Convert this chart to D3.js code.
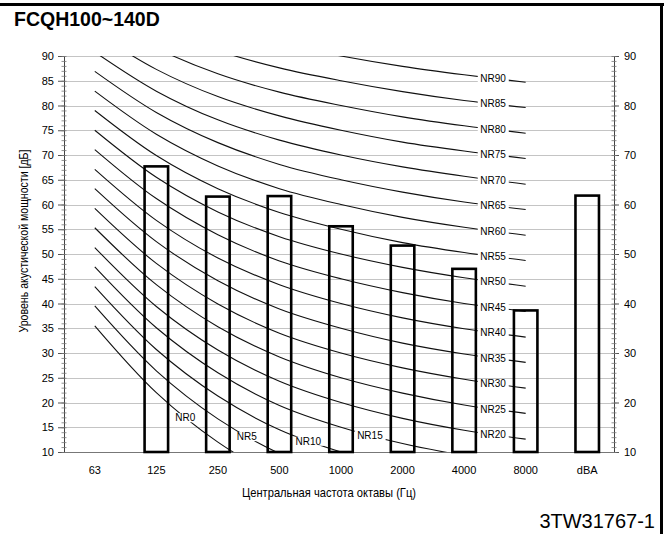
<!DOCTYPE html>
<html>
<head>
<meta charset="utf-8">
<script src="https://cdn.jsdelivr.net/npm/d3@7/dist/d3.min.js"></script>
<style>
  html, body { margin: 0; padding: 0; background: #fff; }
  svg { display: block; }
</style>
</head>
<body>
<svg id="chart" width="664" height="534"></svg>
<script>
// ---------------- DATA ----------------
const categories = ["63", "125", "250", "500", "1000", "2000", "4000", "8000", "dBA"];
const barValues = [null, 67.7, 61.6, 61.7, 55.6, 51.7, 47.0, 38.6, 61.8];

const leftTicks = [10, 15, 20, 25, 30, 35, 40, 45, 50, 55, 60, 65, 70, 75, 80, 85, 90];
const rightTicks = [10, 20, 30, 40, 50, 60, 70, 80, 90];

const nrBands = ["63", "125", "250", "500", "1000", "2000", "4000", "8000"];
const nrLevels = [0, 5, 10, 15, 20, 25, 30, 35, 40, 45, 50, 55, 60, 65, 70, 75, 80, 85, 90];
const nr63   = [35.5, 39.5, 43.4, 47.4, 51.3, 55.3, 59.2, 63.2, 67.1, 71.1, 75.0, 79.0, 82.9, 86.9, 90.8, 94.8, 98.7, 102.7, 106.6];
const nr125  = [22.0, 26.4, 30.7, 35.1, 39.4, 43.8, 48.1, 52.5, 56.8, 61.2, 65.5, 69.9, 74.2, 78.6, 82.9, 87.3, 91.6, 96.0, 100.3];
const nr250  = [12.0, 16.7, 21.3, 26.0, 30.6, 35.3, 39.9, 44.6, 49.2, 53.9, 58.5, 63.2, 67.8, 72.5, 77.1, 81.8, 86.4, 91.1, 95.7];
const nr500  = [4.8, 9.7, 14.5, 19.4, 24.3, 29.2, 34.0, 38.9, 43.8, 48.6, 53.5, 58.4, 63.2, 68.1, 73.0, 77.9, 82.7, 87.6, 92.5];
const nr1000 = [0, 5, 10, 15, 20, 25, 30, 35, 40, 45, 50, 55, 60, 65, 70, 75, 80, 85, 90];
const nr2000 = [-3.5, 1.6, 6.7, 11.7, 16.8, 21.9, 27.0, 32.0, 37.1, 42.2, 47.3, 52.3, 57.4, 62.5, 67.6, 72.6, 77.7, 82.8, 87.9];
const nr4000 = [-6.1, -1.0, 4.2, 9.3, 14.4, 19.5, 24.7, 29.8, 34.9, 40.0, 45.2, 50.3, 55.4, 60.5, 65.7, 70.8, 75.9, 81.0, 86.2];
const nr8000 = [-8.0, -2.9, 2.3, 7.5, 12.6, 17.8, 22.9, 28.1, 33.2, 38.4, 43.5, 48.7, 53.8, 59.0, 64.1, 69.3, 74.4, 79.6, 84.7];

const titleText = "FCQH100~140D";
const yTitle = "Уровень акустической мощности [дБ]";
const xTitle = "Центральная частота октавы (Гц)";
const codeText = "3TW31767-1";

// ---------------- LAYOUT ----------------
const FONT = "Arial, 'Liberation Sans', Helvetica, sans-serif";
const NARROW = "'Liberation Sans Narrow', 'Arial Narrow', Arial, 'Liberation Sans', sans-serif";
const plot = { left: 64, right: 614, top: 56, bottom: 452 };

const svg = d3.select("#chart");

const x = d3.scaleBand().domain(categories).range([64, 618]).padding(0);
const xc = c => x(c) + x.bandwidth() / 2;
const y = d3.scaleLinear().domain([10, 90]).range([plot.bottom, plot.top]);

// Frame
svg.append("line").attr("x1", 0).attr("x2", 664).attr("y1", 4.5).attr("y2", 4.5)
  .attr("stroke", "#000").attr("stroke-width", 3);
svg.append("line").attr("x1", 661.5).attr("x2", 661.5).attr("y1", 3).attr("y2", 534)
  .attr("stroke", "#000").attr("stroke-width", 3);

// Title
svg.append("text").attr("x", 14).attr("y", 26).text(titleText)
  .attr("font-family", FONT).attr("font-weight", "bold").attr("font-size", 19.5).attr("fill", "#000");

// Gridlines
svg.append("g").selectAll("line").data(leftTicks.filter(v => v > 10)).join("line")
  .attr("x1", plot.left).attr("x2", plot.right)
  .attr("y1", d => Math.round(y(d)) + 0.5).attr("y2", d => Math.round(y(d)) + 0.5)
  .attr("stroke", "#c4c4c4").attr("stroke-width", 1);

// Bottom axis line
svg.append("line").attr("x1", plot.left).attr("x2", plot.right)
  .attr("y1", y(10) + 0.5).attr("y2", y(10) + 0.5)
  .attr("stroke", "#777").attr("stroke-width", 1.2);

// NR curves
svg.append("defs").append("clipPath").attr("id", "clip")
  .append("rect").attr("x", plot.left).attr("y", plot.top)
  .attr("width", plot.right - plot.left).attr("height", plot.bottom - plot.top);

const bandArrays = [nr63, nr125, nr250, nr500, nr1000, nr2000, nr4000, nr8000];
const curves = nrLevels.map((lvl, i) => ({
  level: lvl,
  points: nrBands.map((b, j) => ({ band: b, value: bandArrays[j][i] }))
}));

const line = d3.line()
  .x(d => xc(d.band))
  .y(d => y(d.value))
  .curve(d3.curveCatmullRom.alpha(0.5));

const curveG = svg.append("g").attr("clip-path", "url(#clip)");
const paths = curveG.selectAll("path").data(curves).join("path")
  .attr("d", d => line(d.points))
  .attr("fill", "none").attr("stroke", "#111").attr("stroke-width", 1.1);

// NR labels
function labelBand(level) {
  if (level === 0) return "125";
  if (level === 5) return "250";
  if (level === 10) return "500";
  if (level === 15) return "1000";
  return "4000";
}
const labelG = svg.append("g");
paths.each(function (d) {
  const node = this;
  const lx = xc(labelBand(d.level)) + 0.47 * x.step();
  const total = node.getTotalLength();
  let lo = 0, hi = total;
  for (let k = 0; k < 40; k++) {
    const mid = (lo + hi) / 2;
    if (node.getPointAtLength(mid).x < lx) lo = mid; else hi = mid;
  }
  const p = node.getPointAtLength((lo + hi) / 2);
  const g = labelG.append("g");
  const t = g.append("text").attr("x", lx).attr("y", p.y).attr("dy", "0.35em")
    .attr("text-anchor", "middle").attr("font-family", FONT).attr("font-size", 10)
    .attr("fill", "#000").text("NR" + d.level);
  const bb = t.node().getBBox();
  g.insert("rect", "text").attr("x", bb.x - 2.5).attr("y", bb.y + 1)
    .attr("width", bb.width + 5).attr("height", bb.height - 2).attr("fill", "#fff");
});

// Bars
svg.append("g").selectAll("rect").data(categories.map((c, i) => ({ c, v: barValues[i] })).filter(d => d.v != null))
  .join("rect")
  .attr("x", d => xc(d.c) - 11.75)
  .attr("width", 23.5)
  .attr("y", d => y(d.v))
  .attr("height", d => y(10) - y(d.v))
  .attr("fill", "none").attr("stroke", "#000").attr("stroke-width", 2.6);

// Left axis
const leftAxis = d3.axisLeft(y).tickValues(leftTicks).tickSize(6).tickPadding(4);
const gl = svg.append("g").attr("transform", `translate(${plot.left},0)`).call(leftAxis);
gl.select(".domain").attr("stroke", "#444");
gl.selectAll(".tick line").attr("stroke", "#555");
gl.selectAll("text").attr("font-family", FONT).attr("font-size", 11).attr("fill", "#000");

// Right axis
const rightAxis = d3.axisRight(y).tickValues(rightTicks).tickSize(5).tickPadding(5);
const gr = svg.append("g").attr("transform", `translate(${plot.right},0)`).call(rightAxis);
gr.select(".domain").attr("stroke", "#444");
gr.selectAll(".tick line").attr("stroke", "#555");
gr.selectAll("text").attr("font-family", FONT).attr("font-size", 11).attr("fill", "#000");

// Minor ticks (1 dB)
const minor = d3.range(10, 91, 1);
[plot.left, plot.right].forEach(ax => {
  svg.append("g").selectAll("line").data(minor).join("line")
    .attr("x1", ax - 2.5).attr("x2", ax + 2.5)
    .attr("y1", d => y(d) + 0.5).attr("y2", d => y(d) + 0.5)
    .attr("stroke", "#777").attr("stroke-width", 0.8);
});

// Category labels
svg.append("g").selectAll("text").data(categories).join("text")
  .attr("x", d => xc(d)).attr("y", 474)
  .attr("text-anchor", "middle").attr("font-family", FONT).attr("font-size", 11).attr("fill", "#000")
  .text(d => d);

// Axis titles
svg.append("text").attr("x", 329).attr("y", 497).attr("text-anchor", "middle")
  .attr("font-family", NARROW).attr("font-size", 13.5).attr("fill", "#000")
  .attr("textLength", 174).attr("lengthAdjust", "spacingAndGlyphs")
  .text(xTitle);

svg.append("text").attr("transform", "translate(28,241) rotate(-90)").attr("text-anchor", "middle")
  .attr("font-family", NARROW).attr("font-size", 13.5).attr("fill", "#000")
  .attr("textLength", 183).attr("lengthAdjust", "spacingAndGlyphs")
  .text(yTitle);

// Code label
svg.append("text").attr("x", 655).attr("y", 528).attr("text-anchor", "end")
  .attr("font-family", FONT).attr("font-size", 20).attr("fill", "#000").text(codeText);
</script>
</body>
</html>
